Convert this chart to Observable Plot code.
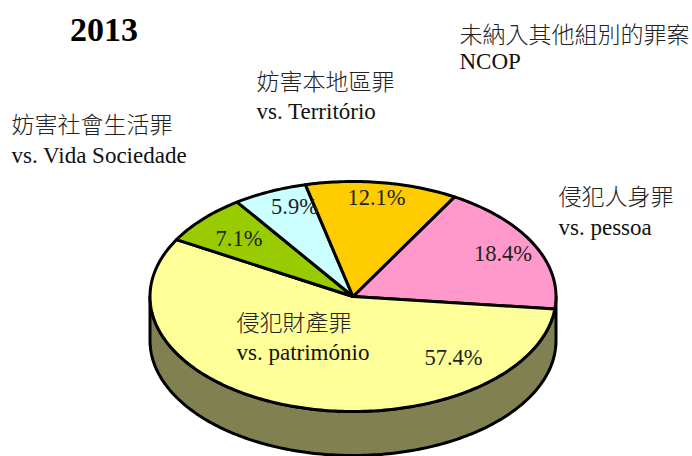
<!DOCTYPE html>
<html><head><meta charset="utf-8">
<script src="https://cdn.jsdelivr.net/npm/d3@7"></script>
<script src="https://cdn.jsdelivr.net/npm/@observablehq/plot@0.6"></script>
<style>html,body{margin:0;padding:0;background:#fff}svg{display:block}</style>
</head><body><div id="chart"></div>
<script>
const categories = ["侵犯人身罪","侵犯財產罪","妨害社會生活罪","妨害本地區罪","未納入其他組別的罪案"];
const shares = [18.4,56.5,7.1,5.9,12.1];
const shareLabels = ["18.4%","57.4%","7.1%","5.9%","12.1%"];
const sliceColors = ["#ff99cc","#ffff99","#99cc00","#ccffff","#ffcc00"];
const wallColor = "#808050";
const labelPosX = [502.5,453,238.5,294,376];
const labelPosY = [253,357,238,206,197];

const captionsCjk = [
  {t:"妨害社會生活罪",x:11,y:125},
  {t:"妨害本地區罪",x:256,y:82},
  {t:"未納入其他組別的罪案",x:459,y:35},
  {t:"侵犯人身罪",x:558,y:197},
  {t:"侵犯財產罪",x:236,y:323}
];
const captionsLat = [
  {t:"vs. Vida Sociedade",x:11,y:155},
  {t:"vs. Território",x:256,y:111},
  {t:"NCOP",x:459,y:61},
  {t:"vs. pessoa",x:558,y:227},
  {t:"vs. património",x:236,y:352}
];

const cx=352.5, cy=296, rx=203, ry=115, depth=44;
const pt=(a,dy=0)=>({x:cx+rx*Math.sin(a),y:cy-ry*Math.cos(a)+dy});
const rad=Math.PI/180;
const arcs=d3.pie().sort(null).startAngle(30*rad).endAngle(390*rad)(shares);
const slicePts=arcs.flatMap((s,i)=>{
  const n=Math.max(2,Math.ceil((s.endAngle-s.startAngle)/rad));
  const p=[{x:cx,y:cy,name:categories[i]}];
  for(let k=0;k<=n;k++)p.push({...pt(s.startAngle+(s.endAngle-s.startAngle)*k/n),name:categories[i]});
  p.push({x:cx,y:cy,name:categories[i]});
  return p;
});
const wallPts=[];
for(let d=90;d<=270;d++)wallPts.push(pt(d*rad,depth));
for(let d=270;d>=90;d--)wallPts.push(pt(d*rad));
wallPts.push(wallPts[0]);

const serif='"Liberation Serif","Noto Sans CJK TC",serif';
const textCol="#222";
const plot=Plot.plot({
  width:692,height:456,margin:0,
  style:{background:"#fff"},
  x:{domain:[0,692],range:[0,692],axis:null},
  y:{domain:[0,456],range:[0,456],axis:null},
  color:{domain:categories,range:sliceColors},
  marks:[
    Plot.line(wallPts,{x:"x",y:"y",fill:wallColor,stroke:"#000",strokeWidth:3,strokeLinejoin:"round"}),
    Plot.line(slicePts,{x:"x",y:"y",z:"name",fill:"name",stroke:"#000",strokeWidth:3,strokeLinejoin:"round"}),
    Plot.text(shareLabels,{x:(d,i)=>labelPosX[i],y:(d,i)=>labelPosY[i],text:d=>d,fontFamily:serif,fontSize:22.5,fill:textCol,letterSpacing:"-0.5px"}),
    Plot.text(captionsCjk,{x:"x",y:"y",text:"t",textAnchor:"start",fontFamily:'"Noto Sans CJK TC",sans-serif',fontSize:23,fontWeight:300,fill:textCol}),
    Plot.text(captionsLat,{x:"x",y:"y",text:"t",textAnchor:"start",fontFamily:serif,fontSize:23,fill:"#111"}),
    Plot.text(["2013"],{x:[103.5],y:[30],text:d=>d,fontFamily:serif,fontSize:34,fontWeight:"bold",fill:"#000"})
  ]
});
document.getElementById("chart").append(plot);
</script></body></html>
